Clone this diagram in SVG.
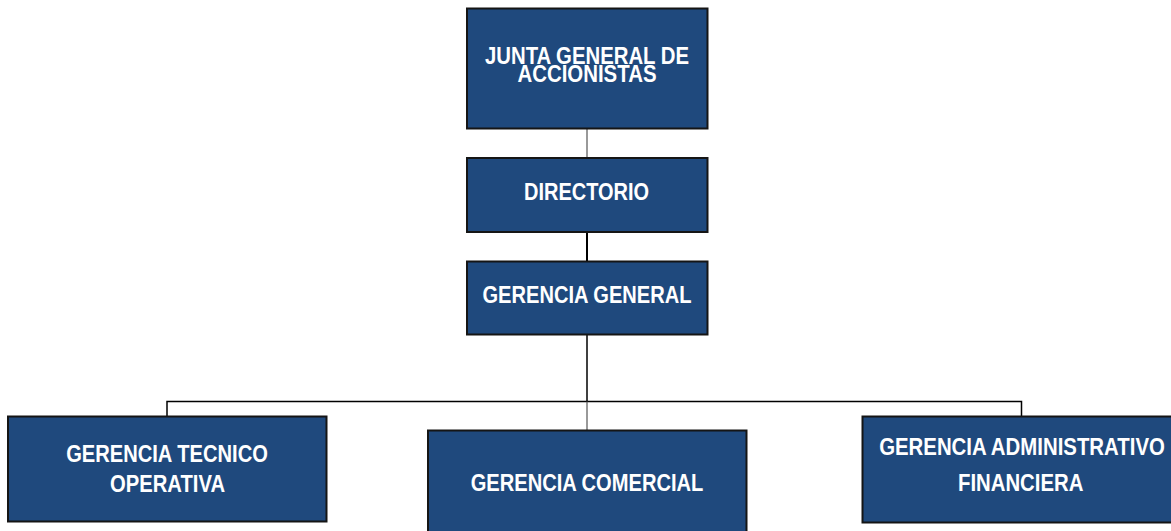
<svg xmlns="http://www.w3.org/2000/svg" width="1171" height="531" viewBox="0 0 1171 531">
<style>
.box{fill:#1f497d;stroke:#151515;stroke-width:2}
.t{font-family:"Liberation Sans",Arial,sans-serif;font-weight:bold;font-size:23px;fill:#ffffff;text-anchor:middle}
.c{fill:none;stroke:#000;stroke-width:1.5}
.g{fill:none;stroke:#555;stroke-width:1.2}
</style>
<rect width="1171" height="531" fill="#ffffff"/>
<g id="connectors">
<line class="g" x1="587" y1="129" x2="587" y2="157"/>
<line class="c" x1="587" y1="232" x2="587" y2="261" style="stroke-width:2"/>
<line class="c" x1="587" y1="335" x2="587" y2="401.5"/>
<polyline class="c" points="167,416 167,401.5 1021.5,401.5 1021.5,416"/>
<line class="g" x1="587" y1="401.5" x2="587" y2="430"/>
</g>
<g id="junta">
<rect class="box" x="467" y="8.5" width="240.5" height="120"/>
<text class="t" x="587" y="64" textLength="204" lengthAdjust="spacingAndGlyphs">JUNTA GENERAL DE</text>
<text class="t" x="587" y="81.7" textLength="139" lengthAdjust="spacingAndGlyphs">ACCIONISTAS</text>
</g>
<g id="directorio">
<rect class="box" x="467" y="158" width="240.5" height="74"/>
<text class="t" x="586.5" y="200" textLength="125" lengthAdjust="spacingAndGlyphs">DIRECTORIO</text>
</g>
<g id="gerencia-general">
<rect class="box" x="467" y="261.5" width="240.5" height="73"/>
<text class="t" x="587" y="303.3" textLength="209" lengthAdjust="spacingAndGlyphs">GERENCIA GENERAL</text>
</g>
<g id="gerencia-tecnico">
<rect class="box" x="8" y="416.5" width="318.5" height="105"/>
<text class="t" x="167" y="461.7" textLength="201.7" lengthAdjust="spacingAndGlyphs">GERENCIA TECNICO</text>
<text class="t" x="167.5" y="491.7" textLength="115" lengthAdjust="spacingAndGlyphs">OPERATIVA</text>
</g>
<g id="gerencia-comercial">
<rect class="box" x="428" y="430.5" width="318.5" height="110"/>
<text class="t" x="587" y="490.7" textLength="232.6" lengthAdjust="spacingAndGlyphs">GERENCIA COMERCIAL</text>
</g>
<g id="gerencia-administrativo">
<rect class="box" x="862.5" y="416.5" width="318.5" height="106"/>
<text class="t" x="1022" y="455" textLength="285.7" lengthAdjust="spacingAndGlyphs">GERENCIA ADMINISTRATIVO</text>
<text class="t" x="1020.7" y="491" textLength="125.3" lengthAdjust="spacingAndGlyphs">FINANCIERA</text>
</g>
</svg>
